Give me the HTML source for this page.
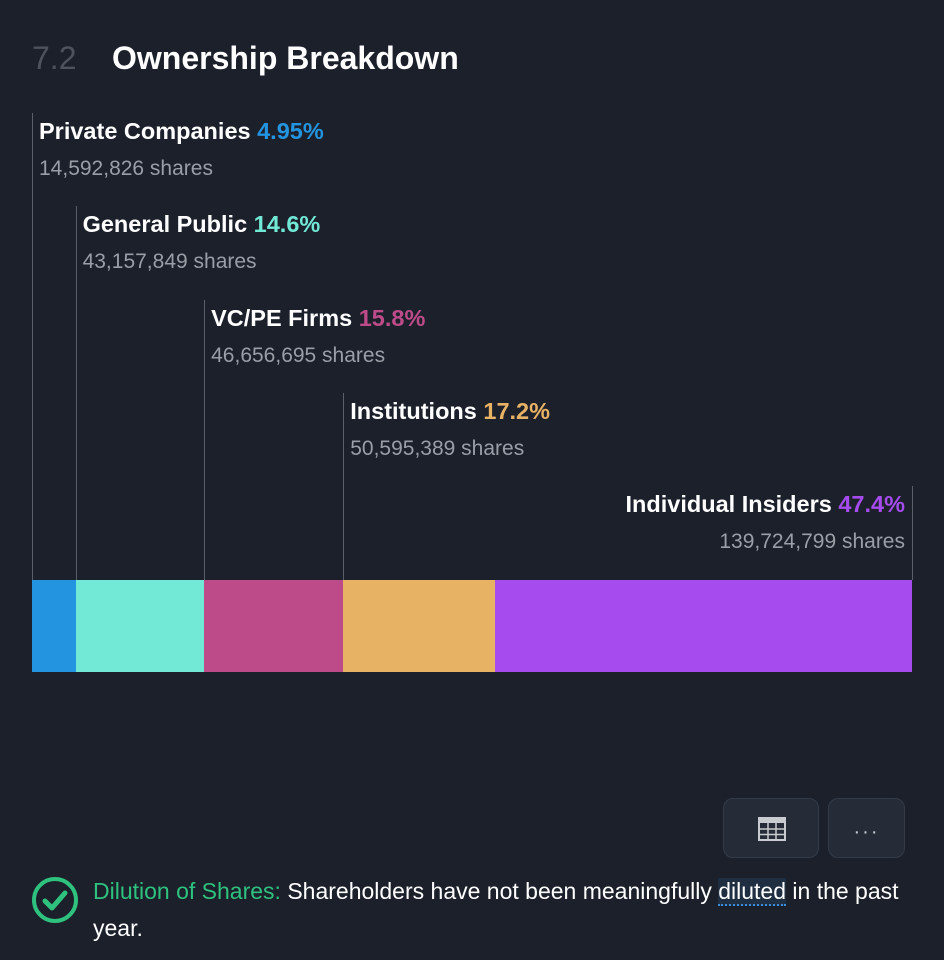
<!DOCTYPE html>
<html><head><meta charset="utf-8"><style>
body{margin:0;width:944px;height:960px;background:#1b202b;font-family:"Liberation Sans",sans-serif;overflow:hidden;position:relative}
.abs{position:absolute}
.lbl{font-size:23.5px;font-weight:bold;color:#fff;white-space:nowrap;line-height:26px}
.sh{font-size:21px;color:#9a9ea6;white-space:nowrap;line-height:24px}
.btn{position:absolute;top:798px;height:60px;border-radius:10px;background:#262c37;border:1px solid #343b47;box-sizing:border-box}
</style></head><body>
<div class="abs" style="left:32px;top:40px;font-size:32px;color:#4d525c;">7.2</div>
<div class="abs" style="left:112px;top:40px;font-size:32px;font-weight:bold;color:#fff;">Ownership Breakdown</div>
<div id="chart"></div>
<div class="btn" style="left:723px;width:96px;">
<svg width="28" height="24" style="position:absolute;left:34px;top:18px" viewBox="0 0 28 24"><rect x="1" y="1" width="26" height="22" fill="none" stroke="#c8cbd0" stroke-width="2"/><rect x="1" y="1" width="26" height="5" fill="#c8cbd0"/><line x1="1" y1="12" x2="27" y2="12" stroke="#c8cbd0" stroke-width="1.5"/><line x1="1" y1="17.5" x2="27" y2="17.5" stroke="#c8cbd0" stroke-width="1.5"/><line x1="10" y1="6" x2="10" y2="23" stroke="#c8cbd0" stroke-width="1.5"/><line x1="18" y1="6" x2="18" y2="23" stroke="#c8cbd0" stroke-width="1.5"/></svg></div>
<div class="btn" style="left:828px;width:77px;color:#c8cbd0;font-size:20px;text-align:center;line-height:66px;letter-spacing:2px">···</div>
<svg class="abs" style="left:31px;top:876px" width="48" height="48" viewBox="0 0 48 48"><circle cx="24" cy="24" r="21" fill="none" stroke="#2ec27e" stroke-width="4"/><path d="M14 25 L21 32 L34 17" fill="none" stroke="#2ec27e" stroke-width="5" stroke-linecap="round" stroke-linejoin="round"/></svg>
<div class="abs" style="left:93px;top:873px;width:815px;font-size:23px;line-height:37px;color:#fff"><span style="color:#2ec27e">Dilution of Shares:</span> Shareholders have not been meaningfully <span style="background:#1f2e40;border-bottom:2px dotted #3a8ee0">diluted</span> in the past year.</div>
<script>
const categories=["Private Companies","General Public","VC/PE Firms","Institutions","Individual Insiders"];
const percents=[4.95,14.6,15.8,17.2,47.4];
const percentLabels=["4.95%","14.6%","15.8%","17.2%","47.4%"];
const shares=["14,592,826","43,157,849","46,656,695","50,595,389","139,724,799"];
const colors=["#2394e0","#72e8d6","#bd4b89","#e8b264","#a64bee"];
const chart=document.getElementById('chart');
const X0=32,W=880,BT=580,BH=92;
const total=percents.reduce((a,b)=>a+b,0);
let x=X0;
percents.forEach((p,i)=>{
  const w=p/total*W;
  const seg=document.createElement('div');
  seg.className='abs';
  
  
  seg.style.cssText=`left:${x}px;top:${BT}px;width:${w+0.5}px;height:${BH}px;background:${colors[i]}`;
  chart.appendChild(seg);
  const last=i===percents.length-1;
  const top=113+i*93.25;
  const lx=last?X0+W:x;
  const ln=document.createElement('div');
  ln.className='abs';
  
  
  ln.style.cssText=`left:${lx}px;top:${top}px;width:1px;height:${BT-top}px;background:#5a5f68`;
  chart.appendChild(ln);
  const lb=document.createElement('div');
  lb.className='abs lbl';
  
  
  lb.innerHTML=`${categories[i]} <span style="color:${colors[i]}">${percentLabels[i]}</span>`;
  const sh=document.createElement('div');
  sh.className='abs sh';
  
  
  sh.textContent=shares[i]+' shares';
  if(last){lb.style.right=(944-(X0+W)+7)+'px';sh.style.right=(944-(X0+W)+7)+'px';}
  else{lb.style.left=(x+7)+'px';sh.style.left=(x+7)+'px';}
  lb.style.top=(top+5)+'px';sh.style.top=(top+44)+'px';
  chart.appendChild(lb);chart.appendChild(sh);
  x+=w;
});
</script>
</body></html>
